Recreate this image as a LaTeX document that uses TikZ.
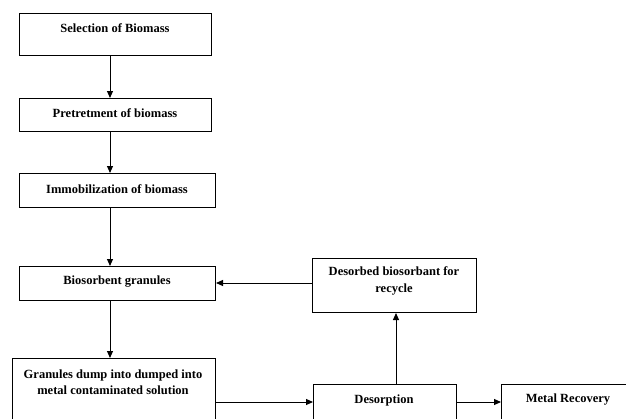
\documentclass[tikz,border=0pt]{standalone}
\usepackage{fontspec}
\setmainfont{Liberation Serif}
\usetikzlibrary{arrows.meta}
\tikzset{
  box/.style={draw, line width=1pt, rectangle, inner sep=0pt},
  lbl/.style={font=\bfseries\fontsize{12.5}{16.5}\selectfont, align=center, inner sep=0pt},
  arr/.style={-{Triangle[length=7pt,width=6pt]}, line width=1pt}
}
\newcommand{\mkbox}[5]{% name, x1, y1, x2, y2
  \node[box, anchor=north west, minimum width={(#4-#2)*1pt}, minimum height={(#5-#3)*1pt}] (#1) at (#2,#3) {};}
\begin{document}
\begin{tikzpicture}[x=1pt,y=-1pt]
\clip (0,0) rectangle (626,418);
\fill[white] (0,0) rectangle (626,418);
\mkbox{b1}{19}{13}{211}{55}
\mkbox{b2}{19}{98}{211}{131}
\mkbox{b3}{19}{173}{215}{207}
\mkbox{b4}{19}{266}{215}{300}
\mkbox{b5}{12}{358}{215}{440}
\mkbox{b6}{312}{258}{476}{312}
\mkbox{b7}{313}{384}{456}{440}
\mkbox{b8}{501}{384}{650}{440}
\node[lbl] (t1) at (115,28) {Selection of Biomass};
\node[lbl] (t2) at (115,113) {Pretretment of biomass};
\node[lbl] (t3) at (117,189) {Immobilization of biomass};
\node[lbl] (t4) at (117,282) {Biosorbent granules};
\node[lbl] (t5) at (113,382) {Granules dump into dumped into\\metal contaminated solution};
\node[lbl] (t6) at (394,281) {Desorbed biosorbant for\\recycle};
\node[lbl] (t7) at (384,400) {Desorption};
\node[lbl] (t8) at (568,400) {Metal Recovery};
\draw[arr] (110,0 |- b1.south) -- (110,0 |- b2.north);
\draw[arr] (110,0 |- b2.south) -- (110,0 |- b3.north);
\draw[arr] (110,0 |- b3.south) -- (110,0 |- b4.north);
\draw[arr] (110,0 |- b4.south) -- (110,0 |- b5.north);
\draw[arr] (b6.west |- 0,283) -- (b4.east |- 0,283);
\draw[arr] (b5.east |- 0,402) -- (b7.west |- 0,402);
\draw[arr] (396,0 |- b7.north) -- (396,0 |- b6.south);
\draw[arr] (b7.east |- 0,402) -- (b8.west |- 0,402);
\end{tikzpicture}
\end{document}
